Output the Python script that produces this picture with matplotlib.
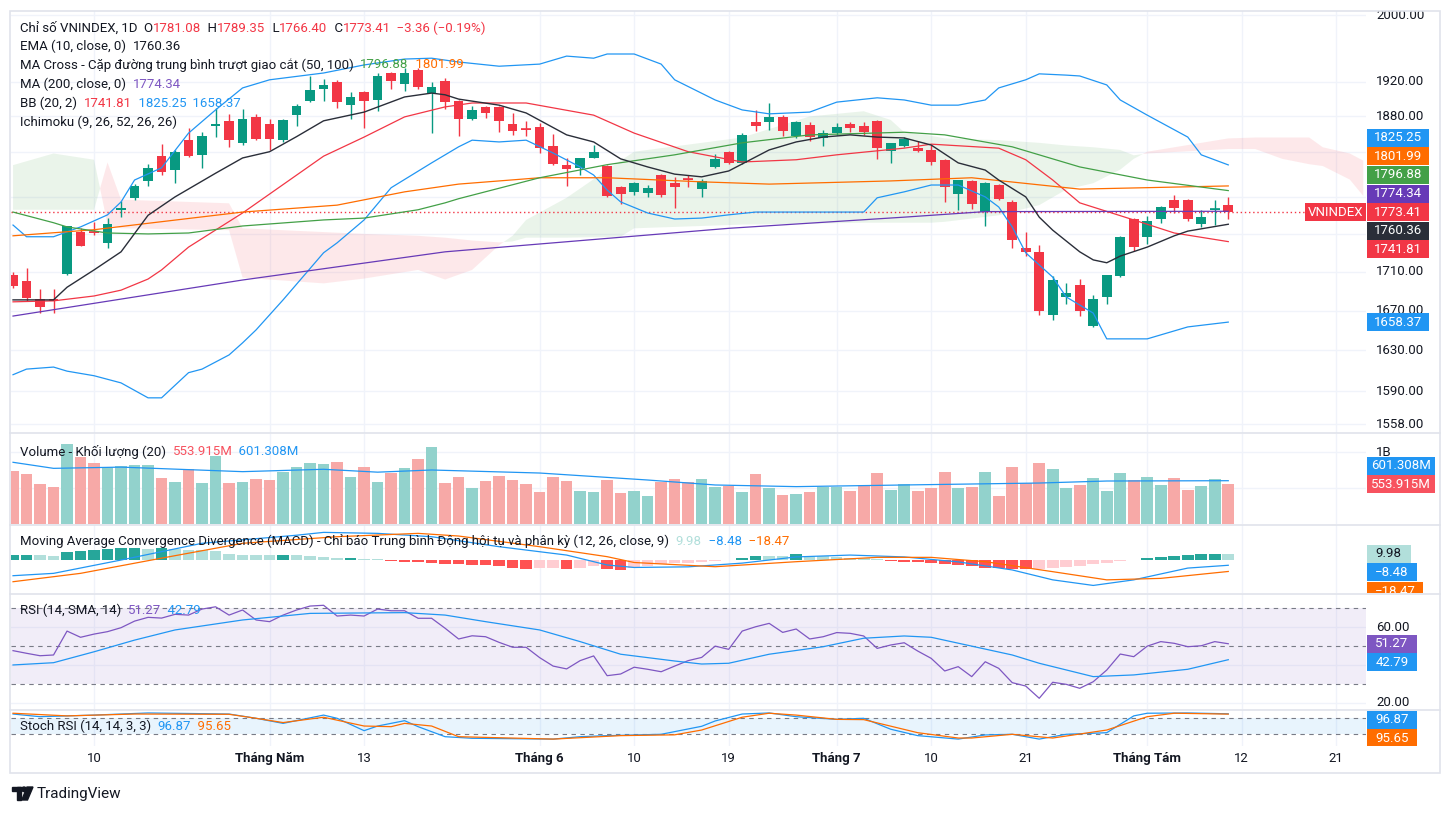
import numpy as np
import matplotlib.pyplot as plt
import matplotlib.transforms as mtransforms
from matplotlib.patches import Rectangle, Polygon, Ellipse
from matplotlib.lines import Line2D

plt.rcParams['font.family'] = ['Roboto', 'DejaVu Sans']

# ---------------- data ----------------
opens = [1707, 1700, 1682, 1681.5, 1708, 1752, 1752.5, 1740.5, 1776, 1788.5,
         1807.5, 1835, 1819.5, 1853, 1836.5, 1869, 1875, 1850, 1879.5, 1871.5,
         1853, 1882, 1898, 1912, 1920, 1893, 1908, 1899, 1930.5, 1917.5,
         1934, 1907, 1921, 1898, 1877, 1891, 1891, 1871.5, 1866, 1868,
         1846.5, 1825.5, 1822, 1833, 1824, 1801, 1795.5, 1794.5, 1814, 1805.5,
         1810, 1798.5, 1823, 1840, 1827.5, 1873.5, 1873.5, 1879.5, 1857.5, 1870,
         1855.5, 1861, 1871.5, 1869, 1875, 1841, 1846.5, 1844, 1842, 1831,
         1793, 1807.5, 1773.5, 1803, 1784.5, 1735, 1731, 1665.5, 1684, 1696.5,
         1654.5, 1684, 1706, 1766, 1747, 1766, 1786.5, 1786.5, 1760.5, 1776,
         1781.08]
highs = [1710, 1714, 1692, 1692, 1759, 1756, 1763, 1767, 1785.5, 1804,
         1826, 1849, 1842, 1867, 1862, 1890, 1883, 1888.5, 1883, 1877,
         1877.5, 1894.5, 1927, 1923.5, 1922.5, 1908, 1909, 1930.5, 1932, 1936.5,
         1936.5, 1920, 1924.5, 1899, 1892, 1892, 1892, 1884, 1875, 1872.5,
         1860, 1833, 1833.5, 1848, 1825, 1802, 1806, 1803, 1815, 1812,
         1814, 1810, 1837.5, 1841, 1861, 1887.5, 1895.5, 1882, 1875, 1874,
         1864.5, 1872.5, 1874, 1874, 1875.5, 1850, 1857, 1852, 1847.5, 1832,
         1809, 1808, 1806.5, 1804, 1786.5, 1752, 1738, 1705.5, 1698.5, 1702.5,
         1686, 1707, 1748, 1767, 1769.5, 1780, 1792, 1787.5, 1776, 1786.5,
         1789.35]
lows = [1693, 1680, 1668, 1668, 1707, 1737, 1749, 1735, 1768, 1787,
        1802, 1814, 1805, 1834, 1822, 1856.5, 1845, 1848, 1853, 1842,
        1851, 1869, 1897, 1898, 1889.5, 1877, 1867, 1886, 1912, 1909.5,
        1912, 1861, 1888.5, 1857.5, 1876, 1878, 1862, 1859, 1857.5, 1838.5,
        1825, 1802, 1814, 1832.5, 1790, 1782, 1792, 1790, 1790, 1778,
        1801, 1790, 1822, 1826, 1826, 1863.5, 1864.5, 1857.5, 1856, 1852,
        1846.5, 1859, 1862, 1859, 1832, 1827.5, 1845, 1839.5, 1825, 1784.5,
        1776, 1777, 1758.5, 1787, 1735, 1726.5, 1665.5, 1660.5, 1677, 1664.5,
        1653.5, 1677, 1704.5, 1732, 1739.5, 1762, 1772.5, 1764, 1757.5, 1759.5,
        1766.40]
closes = [1695, 1683, 1674, 1680.5, 1758.5, 1737.5, 1751.5, 1760.5, 1777.5, 1802,
          1822, 1817.5, 1840, 1835.5, 1857.5, 1871, 1853, 1877, 1854.5, 1854.5,
          1876, 1892, 1910.5, 1916.5, 1896.5, 1902.5, 1898, 1927, 1921, 1930.5,
          1914, 1914, 1896.5, 1877, 1887.5, 1884, 1875, 1863.5, 1865, 1844,
          1826.5, 1821, 1833, 1840, 1791, 1793, 1805.5, 1800, 1792, 1801,
          1809, 1807.5, 1832, 1827.5, 1859, 1869, 1879.5, 1863.5, 1873.5, 1856.5,
          1861, 1868, 1867, 1862, 1844, 1849.5, 1854.5, 1841, 1828.5, 1801,
          1808.5, 1782, 1805.5, 1788, 1743.5, 1731, 1669.5, 1701.5, 1688, 1669.5,
          1682, 1707, 1747, 1736, 1764, 1779, 1778, 1766, 1768.5, 1776.77,
          1773.41]
volumes = [0.740, 0.699, 0.556, 0.514, 1.111, 0.935, 0.847, 0.787, 0.806, 0.824,
           0.815, 0.643, 0.588, 0.759, 0.574, 0.949, 0.574, 0.583, 0.625, 0.611,
           0.722, 0.792, 0.847, 0.833, 0.861, 0.653, 0.792, 0.583, 0.713, 0.778,
           0.903, 1.069, 0.574, 0.653, 0.500, 0.597, 0.667, 0.611, 0.560, 0.444,
           0.653, 0.597, 0.458, 0.444, 0.616, 0.431, 0.458, 0.389, 0.588, 0.625,
           0.588, 0.625, 0.519, 0.532, 0.449, 0.694, 0.500, 0.403, 0.421, 0.449,
           0.509, 0.509, 0.458, 0.542, 0.713, 0.472, 0.556, 0.458, 0.505, 0.722,
           0.505, 0.509, 0.722, 0.389, 0.796, 0.574, 0.852, 0.764, 0.505, 0.542,
           0.639, 0.458, 0.713, 0.611, 0.657, 0.542, 0.639, 0.472, 0.528, 0.625,
           0.553915]

# indicator lines, sampled at bar indices
ema_x = [0, 3, 4, 6, 8, 10, 12, 15, 17, 19, 21, 23, 26, 29, 31, 32, 33, 36, 38, 41,
         43, 45, 47, 49, 51, 53, 56, 58, 60, 62, 64, 66, 68, 70, 72, 73, 75, 76, 77, 79,
         80, 81, 82, 84, 86, 87, 90]
ema_v = [1681, 1681, 1694, 1712, 1731, 1770, 1790, 1816, 1833, 1840, 1857, 1875, 1885, 1902.5,
         1907, 1905, 1900, 1893, 1884, 1859, 1851, 1832, 1823, 1815, 1812, 1818.5, 1842, 1851,
         1856.5, 1859, 1856.5, 1855.5, 1847.5, 1827.5, 1819.5, 1808.5, 1790, 1768, 1754, 1731,
         1722.5, 1719.5, 1726.5, 1736, 1748, 1753, 1760.36]
bb_mid_x = [0, 3, 6, 8, 10, 11, 13, 17, 23, 26, 29, 32, 34, 38, 43, 46, 50, 54, 58, 61,
            66, 68, 73, 75, 77, 79, 83, 86, 90]
bb_mid_v = [1679, 1680, 1685, 1691, 1702.5, 1712, 1736, 1772.5, 1835, 1856.5, 1879.5, 1891,
            1895.5, 1895.5, 1881.5, 1861, 1840, 1828.5, 1831, 1836.5, 1844, 1848.5, 1844, 1831,
            1808.5, 1783.5, 1765, 1751, 1741.81]
bb_up_x = [0, 1, 3, 5, 7, 8, 9, 11, 13, 15, 17, 19, 23, 26, 29, 31, 33, 36, 39, 41,
           43, 44, 46, 48, 49, 52, 54, 56, 59, 61, 64, 66, 68, 70, 72, 73, 75, 76, 78, 79,
           81, 82, 84, 87, 88, 90]
bb_up_v = [1759.5, 1747, 1747, 1757.5, 1770.5, 1784.5, 1808.5, 1822, 1861, 1887.5, 1913, 1922.5,
           1930.5, 1940, 1947, 1948, 1943.5, 1938.5, 1941, 1950.5, 1948, 1953, 1953, 1941, 1922.5,
           1899, 1887.5, 1883, 1885, 1896.5, 1901.5, 1899, 1893, 1893, 1899, 1913, 1922.5, 1929.5,
           1928, 1927, 1916.5, 1899, 1881.5, 1856.5, 1836.5, 1825.25]
bb_lo_x = [0, 1, 3, 4, 6, 8, 10, 11, 13, 14, 16, 17, 18, 20, 23, 24, 26, 28, 31, 33,
           34, 36, 38, 40, 42, 43, 44, 45, 47, 49, 51, 53, 55, 59, 63, 64, 66, 68, 70, 72,
           73, 74, 75, 77, 78, 80, 81, 84, 87, 90]
bb_lo_v = [1606, 1611.5, 1613.5, 1609.5, 1605, 1598, 1583.5, 1583.5, 1608, 1611.5, 1625.5, 1637.5,
           1650.5, 1681, 1730, 1740.5, 1765, 1800, 1827.5, 1845.5, 1853, 1851, 1853, 1838.5, 1823,
           1814, 1797.5, 1784.5, 1772.5, 1766, 1767, 1770.5, 1773.5, 1773.5, 1773.5, 1789, 1795.5,
           1803, 1803, 1790, 1779, 1757.5, 1730, 1704.5, 1684, 1667.5, 1641.5, 1641.5, 1653.5, 1658.37]
ma50_x = [0, 3, 4, 7, 10, 13, 17, 23, 26, 30, 32, 33, 39, 44, 49, 54, 59, 66, 69, 74, 79, 84, 90]
ma50_v = [1773.5, 1762, 1757.5, 1751, 1750, 1751, 1758.5, 1765, 1767, 1776, 1783.5, 1788, 1811,
          1825.5, 1836.5, 1850, 1859, 1862, 1859, 1845.5, 1823, 1808.5, 1796.88]
ma100_x = [0, 6, 17, 24, 29, 33, 39, 44, 51, 56, 65, 71, 79, 90]
ma100_v = [1748, 1754.5, 1773.5, 1781, 1795.5, 1804, 1811, 1811, 1806.5, 1804, 1807.5, 1811, 1798.5, 1801.99]
ma200_x = [0, 17, 32, 53, 66, 72, 90]
ma200_v = [1664.5, 1701.5, 1731, 1756, 1768, 1774, 1774.34]

# Ichimoku cloud (leading spans, drawn 26 bars ahead)
cloud_x = [0, 3, 6, 7, 8, 16, 17, 23, 26, 30, 32, 34, 36, 37, 38, 41, 45, 46, 54, 59,
           63, 65, 66, 68, 69, 73, 76, 78, 80, 82, 83, 84, 90, 92, 94, 96, 97, 99, 100]
span_a = [1825, 1838, 1831, 1760, 1756, 1754, 1704, 1698, 1703, 1712, 1702, 1712, 1738, 1748,
          1765, 1789, 1830, 1840, 1856, 1880, 1886, 1876, 1862, 1858, 1855, 1853, 1850, 1847,
          1845, 1842, 1836, 1838, 1843, 1843, 1832, 1826, 1824, 1809, 1791]
span_b = [1776, 1776, 1776, 1828, 1787, 1783, 1756, 1752, 1750, 1748, 1746, 1743, 1741, 1742,
          1746, 1746, 1747, 1756, 1760, 1761, 1762, 1762, 1762, 1762, 1763, 1770, 1781, 1798,
          1805, 1820, 1832, 1840, 1855, 1856, 1856, 1856, 1845, 1838, 1830]

vma_x = [0, 3, 8, 17, 23, 27, 31, 39, 47, 52, 58, 66, 76, 81, 90]
vma_v = [0.857, 0.773, 0.79, 0.727, 0.76, 0.72, 0.75, 0.708, 0.611, 0.542, 0.519, 0.542, 0.569, 0.597, 0.601308]

macd_hist = [8.0, 8.8, 7.5, 7.2, 12.4, 14.5, 16.7, 18.3, 19.4, 19.6,
             17.7, 19.4, 17.7, 16.7, 15.6, 14.0, 10.2, 8.2, 8.1, 8.0,
             8.3, 7.5, 5.9, 4.8, 3.2, 3.4, 1.6, 1.2, -1.6, -2.7,
             -3.8, -4.8, -5.9, -7.0, -8.0, -8.6, -10.2, -12.4, -14.5, -13.4,
             -12.4, -15.0, -12.4, -10.2, -15.0, -16.0, -13.0, -10.0, -7.0, -5.5,
             -4.0, -3.0, -1.5, -0.5, 3.2, 7.0, 6.8, 5.9, 9.1, 7.0,
             5.9, 4.8, 3.8, 2.7, 1.6, -1.6, -2.7, -3.8, -4.8, -5.9,
             -8.0, -10.2, -12.4, -13.0, -14.0, -15.0, -14.5, -13.0, -11.0, -9.0,
             -7.0, -4.5, -2.0, -0.5, 3.0, 5.0, 7.0, 8.5, 10.0, 10.5,
             9.98]
macd_x = [0, 3, 8, 14, 21, 23, 27, 31, 36, 41, 44, 46, 50, 54, 58, 62, 66, 70, 74, 77, 80, 83, 87, 90]
macd_v = [-25.3, -21.5, 0, 27, 40, 44.6, 43, 37.6, 21.5, 8, -8, -12, -11, -5, 5, 8, 5, -3, -16,
          -32, -41, -32, -13, -8.48]
sig_x = [0, 5, 11, 17, 24, 30, 33, 39, 44, 46, 52, 58, 64, 68, 72, 77, 81, 85, 90]
sig_v = [-35, -21.5, 3, 27, 37.6, 43, 38.7, 21.5, 5.4, -4, -10.8, -2.7, 4.3, 4.3, -2.7, -18.8,
         -32, -29.6, -18.47]

rsi = [47.6, 46.2, 44.9, 45.3, 58.0, 54.7, 56.4, 57.7, 59.8, 63.3,
       65.3, 64.9, 66.9, 66.5, 69.7, 70.9, 66.5, 69.2, 63.9, 63.0,
       66.5, 69.2, 71.3, 71.7, 66.0, 66.5, 66.0, 69.7, 68.8, 68.8,
       64.8, 64.8, 59.5, 53.8, 55.5, 55.0, 52.0, 49.4, 49.4, 43.9,
       39.4, 37.9, 42.3, 44.8, 34.3, 35.2, 38.8, 37.7, 36.4, 39.4,
       42.3, 44.0, 50.0, 48.3, 58.0, 60.3, 62.1, 57.3, 59.1, 53.8,
       55.0, 57.2, 56.8, 55.4, 48.8, 50.6, 51.8, 47.4, 43.5, 36.8,
       39.1, 33.8, 41.7, 38.2, 30.6, 28.8, 22.3, 30.8, 29.7, 27.6,
       31.1, 37.3, 45.8, 44.4, 50.0, 52.4, 51.5, 49.7, 50.2, 52.4,
       51.27]
rma_x = [0, 3, 6, 9, 12, 17, 22, 29, 32, 35, 39, 42, 45, 49, 51, 53, 56, 60, 63, 66,
         68, 71, 74, 76, 80, 83, 87, 90]
rma_v = [40, 41.2, 47, 53.2, 58.6, 63.9, 67.4, 67.8, 66.5, 63, 58.6, 52.4, 45.7, 42.1, 40.5,
         40.9, 45.7, 49.7, 54.2, 55.4, 54.7, 50, 45.3, 40.9, 33.8, 34.7, 37.7, 42.79]

k_x = [0, 2, 6, 10, 16, 18, 20, 23, 24, 26, 27, 29, 30, 32, 34, 40, 42, 44, 48, 51,
       52, 54, 56, 58, 61, 63, 65, 67, 70, 72, 74, 76, 78, 81, 83, 84, 87, 90]
k_v = [96, 86, 92, 100, 96, 80, 61, 92, 80, 33.6, 51, 71, 48.6, 11, 5, 2, 11, 15, 20, 50,
       70, 96, 100, 86, 76, 80, 39, 15, 2, 17.5, 20, 2, 20, 26, 89, 99, 100, 96.87]
d_x = [0, 4, 9, 16, 18, 20, 23, 26, 28, 29, 31, 33, 40, 45, 49, 51, 54, 56, 58, 61,
       63, 67, 70, 71, 74, 77, 81, 84, 86, 90]
d_v = [99, 89, 96, 95, 80, 64, 84, 51, 48.6, 61, 51, 11, 2, 15, 18, 36, 84, 99, 92, 76,
       75, 26, 6, 6, 20, 6, 36, 86, 99, 95.65]

tick_idx = [6, 19, 26, 39, 46, 53, 61, 68, 75, 84, 91, 98]
tick_lbl = ['10', 'Tháng Năm', '13', 'Tháng 6', '10', '19', 'Tháng 7', '10', '21',
            'Tháng Tám', '12', '21']
price_grid = [1558, 1590, 1630, 1670, 1710, 1750, 1790, 1840, 1880, 1920, 2000]
price_labels = [1558, 1590, 1630, 1670, 1710, 1880, 1920, 2000]

# ---------------- style ----------------
UP, DN = '#089981', '#F23645'
BLUE, ORANGE, GREEN, PURPLE, RSI_C = '#2196F3', '#FF6D00', '#43A047', '#673AB7', '#7E57C2'
TXT, GRID, BORDER = '#131722', '#F0F3FA', '#E0E3EB'
FS = 9.5

W, H = 1452, 813
fig = plt.figure(figsize=(W / 100, H / 100), dpi=100)
XL, XR = -0.15, 100.2


def box(top, bot, x0=11, x1=1366):
    return [x0 / W, 1 - bot / H, (x1 - x0) / W, (bot - top) / H]


def pane(top, bot, ylim, log=False):
    ax = fig.add_axes(box(top, bot))
    sc = fig.add_axes(box(top, bot, 1366, 1440))
    for a in (ax, sc):
        if log:
            a.set_yscale('log')
        a.set_ylim(*ylim)
        a.axis('off')
    ax.set_xlim(XL, XR)
    sc.set_xlim(0, 1)
    for i in tick_idx:
        ax.axvline(i, color=GRID, lw=1, zorder=0)
    return ax, sc


def scale_labels(sc, vals, fmt):
    tr = mtransforms.blended_transform_factory(sc.transAxes, sc.transData)
    for v in vals:
        sc.text(0.135, v, fmt(v), transform=tr, ha='left', va='center', fontsize=FS,
                color=TXT, zorder=2, clip_on=True)


def legend(ax, ypx, parts):
    t = ax.text(20 / W, 1 - ypx / H, parts[0][0], color=parts[0][1], fontsize=FS,
                transform=fig.transFigure, ha='left', va='center', zorder=10)
    for s, c in parts[1:]:
        t = ax.annotate(s, xy=(1, 0.5), xycoords=t, ha='left', va='center', color=c,
                        fontsize=FS, annotation_clip=False, zorder=10)


def right_tags(ax, sc, items, anchor, top_px):
    disp = [ax.transData.transform((0, it[0]))[1] for it in items]
    pos = list(disp)
    gap = 18.6
    prev = disp[anchor]
    for k in sorted([k for k in range(len(items)) if k != anchor and disp[k] >= disp[anchor]],
                    key=lambda k: disp[k]):
        pos[k] = max(disp[k], prev + gap)
        prev = pos[k]
    prev = disp[anchor]
    for k in sorted([k for k in range(len(items)) if k != anchor and disp[k] < disp[anchor]],
                    key=lambda k: -disp[k]):
        pos[k] = min(disp[k], prev - gap)
        prev = pos[k]
    over = max(pos) + 9.5 - (H - top_px)
    if over > 0:
        pos = [p - over for p in pos]
    inv = sc.transAxes.inverted()
    hh = 18 / sc.bbox.height
    for (v, s, bg, fg), p in zip(items, pos):
        fy = inv.transform((0, p))[1]
        wpx = len(s) * 6.2 + 19
        sc.add_patch(Rectangle((0.012, fy - hh / 2), wpx / 74, hh, transform=sc.transAxes,
                               facecolor=bg, edgecolor='none', zorder=5))
        sc.text(0.012 + wpx / 148, fy, s, transform=sc.transAxes, ha='center', va='center',
                color=fg, fontsize=FS, zorder=6, clip_on=True)
    return pos


x = np.arange(len(closes))
o, h, l, c = (np.array(a, dtype=float) for a in (opens, highs, lows, closes))
up = c >= o

# ---------------- main pane ----------------
ax, sc = pane(11, 433, (1549.9, 2004.9), log=True)
for v in price_grid:
    ax.axhline(v, color=GRID, lw=1, zorder=0)
scale_labels(sc, price_labels, lambda v: f'{v:.2f}')

ca, cb = np.array(span_a, float), np.array(span_b, float)
ax.fill_between(cloud_x, ca, cb, where=ca >= cb, interpolate=True, color=GREEN, alpha=0.11,
                lw=0, zorder=1)
ax.fill_between(cloud_x, ca, cb, where=ca < cb, interpolate=True, color=DN, alpha=0.11,
                lw=0, zorder=1)

col = np.where(up, UP, DN)
ax.vlines(x, l, h, colors=col, lw=1, zorder=3)
ax.bar(x, np.maximum(np.abs(c - o), 0.01), bottom=np.minimum(o, c), width=0.72, color=col,
       lw=0, zorder=3)
doji = np.abs(c - o) < 2
ax.hlines((o[doji] + c[doji]) / 2, x[doji] - 0.36, x[doji] + 0.36, colors=col[doji], lw=1.2,
          zorder=3)

ax.axhline(c[-1], color=DN, lw=1, ls=(0, (1, 2)), zorder=2)
ax.plot(bb_up_x, bb_up_v, color=BLUE, lw=0.9, zorder=4)
ax.plot(bb_lo_x, bb_lo_v, color=BLUE, lw=0.9, zorder=4)
ax.plot(bb_mid_x, bb_mid_v, color=DN, lw=0.9, zorder=4)
ax.plot(ma100_x, ma100_v, color=ORANGE, lw=0.9, zorder=4)
ax.plot(ma50_x, ma50_v, color=GREEN, lw=0.9, zorder=4)
ax.plot(ma200_x, ma200_v, color=PURPLE, lw=0.9, zorder=4)
ax.plot(ema_x, ema_v, color='#2A2E39', lw=1.0, zorder=4)

chg = c[-1] - c[-2]
legend(ax, 28, [('Chỉ số VNINDEX, 1D  O', TXT), (f'{o[-1]:.2f}', DN), ('  H', TXT),
                (f'{h[-1]:.2f}', DN), ('  L', TXT), (f'{l[-1]:.2f}', DN), ('  C', TXT),
                (f'{c[-1]:.2f}', DN),
                (f'  −{abs(chg):.2f} (−{abs(chg / c[-2]) * 100:.2f}%)', DN)])
legend(ax, 46.5, [('EMA (10, close, 0)  ', TXT), (f'{ema_v[-1]:.2f}', TXT)])
legend(ax, 65, [('MA Cross - Cặp đường trung bình trượt giao cắt (50, 100)  ', TXT),
                (f'{ma50_v[-1]:.2f}', GREEN), (f'  {ma100_v[-1]:.2f}', ORANGE)])
legend(ax, 84, [('MA (200, close, 0)  ', TXT), (f'{ma200_v[-1]:.2f}', RSI_C)])
legend(ax, 103, [('BB (20, 2)  ', TXT), (f'{bb_mid_v[-1]:.2f}', DN),
                 (f'  {bb_up_v[-1]:.2f}', BLUE), (f'  {bb_lo_v[-1]:.2f}', BLUE)])
legend(ax, 122, [('Ichimoku (9, 26, 52, 26, 26)', TXT)])

items = [(bb_up_v[-1], f'{bb_up_v[-1]:.2f}', BLUE, 'white'),
         (ma100_v[-1], f'{ma100_v[-1]:.2f}', ORANGE, 'white'),
         (ma50_v[-1], f'{ma50_v[-1]:.2f}', GREEN, 'white'),
         (ma200_v[-1], f'{ma200_v[-1]:.2f}', PURPLE, 'white'),
         (c[-1], f'{c[-1]:.2f}', DN, 'white'),
         (ema_v[-1], f'{ema_v[-1]:.2f}', '#2A2E39', 'white'),
         (bb_mid_v[-1], f'{bb_mid_v[-1]:.2f}', DN, 'white'),
         (bb_lo_v[-1], f'{bb_lo_v[-1]:.2f}', BLUE, 'white')]
pos = right_tags(ax, sc, items, 4, 11)
trm = mtransforms.blended_transform_factory(ax.transAxes, fig.transFigure)
ax.add_patch(Rectangle(((1305 - 11) / 1355, (pos[4] - 9) / H), 1 - (1305 - 11) / 1355, 18 / H,
                       transform=trm, facecolor=DN, edgecolor='none', zorder=6))
ax.text((1336 - 11) / 1355, pos[4] / H, 'VNINDEX', transform=trm, ha='center', va='center',
        color='white', fontsize=FS, zorder=7)

# ---------------- volume pane ----------------
av, sv = pane(434, 524, (0, 1.25))
for v in (0.5, 1.0):
    av.axhline(v, color=GRID, lw=1, zorder=0)
scale_labels(sv, [1.0], lambda v: '1B')
av.bar(x, volumes, width=0.86, color=np.where(up, '#92D2CC', '#F7A9A7'), lw=0, zorder=2)
av.plot(vma_x, vma_v, color=BLUE, lw=0.9, zorder=3)
legend(av, 451.5, [('Volume - Khối lượng (20)  ', TXT), (f'{volumes[-1] * 1000:.3f}M', '#F7525F'),
                   (f'  {vma_v[-1] * 1000:.3f}M', BLUE)])
right_tags(av, sv, [(vma_v[-1], f'{vma_v[-1] * 1000:.3f}M', BLUE, 'white'),
                    (volumes[-1], f'{volumes[-1] * 1000:.3f}M', '#F7525F', 'white')], 1, 434)

# ---------------- MACD pane ----------------
am, sm = pane(525, 593, (-53.2, 56.5))
hcol = []
for i, hv in enumerate(macd_hist):
    pv = macd_hist[i - 1] if i else hv - 1
    if hv >= 0:
        hcol.append('#26A69A' if hv > pv else '#B2DFDB')
    else:
        hcol.append('#FF5252' if hv < pv else '#FFCDD2')
am.bar(x, macd_hist, width=0.86, color=hcol, lw=0, zorder=2)
am.plot(macd_x, macd_v, color=BLUE, lw=0.9, zorder=3)
am.plot(sig_x, sig_v, color=ORANGE, lw=0.9, zorder=3)
legend(am, 541.5, [('Moving Average Convergence Divergence (MACD) - Chỉ báo Trung bình Động hội tụ '
                    'và phân kỳ (12, 26, close, 9)  ', TXT),
                   (f'{macd_hist[-1]:.2f}', '#B2DFDB'), (f'  {macd_v[-1]:.2f}'.replace('-', '−'), BLUE),
                   (f'  {sig_v[-1]:.2f}'.replace('-', '−'), ORANGE)])
right_tags(am, sm, [(macd_hist[-1], f'{macd_hist[-1]:.2f}', '#B2DFDB', TXT),
                    (macd_v[-1], f'{macd_v[-1]:.2f}'.replace('-', '−'), BLUE, 'white'),
                    (sig_v[-1], f'{sig_v[-1]:.2f}'.replace('-', '−'), ORANGE, 'white')], 0, 525)

# ---------------- RSI pane ----------------
ar, sr = pane(594, 709, (16.6, 77.7))
for v in (20, 40, 60):
    ar.axhline(v, color=GRID, lw=1, zorder=0)
ar.axhspan(30, 70, color=RSI_C, alpha=0.1, lw=0, zorder=1)
for v in (70, 50, 30):
    ar.axhline(v, color='#787B86', lw=0.8, ls=(0, (4, 4)), zorder=2)
scale_labels(sr, [60, 20], lambda v: f'{v:.2f}')
ar.plot(x, rsi, color=RSI_C, lw=0.9, zorder=3)
ar.plot(rma_x, rma_v, color=BLUE, lw=0.9, zorder=3)
legend(ar, 610.5, [('RSI (14, SMA, 14)  ', TXT), (f'{rsi[-1]:.2f}', RSI_C),
                   (f'  {rma_v[-1]:.2f}', BLUE)])
right_tags(ar, sr, [(rsi[-1], f'{rsi[-1]:.2f}', RSI_C, 'white'),
                    (rma_v[-1], f'{rma_v[-1]:.2f}', BLUE, 'white')], 0, 594)

# ---------------- Stoch RSI pane ----------------
ast, sst = pane(710, 746, (-23.9, 111.1))
ast.axhspan(20, 80, color=BLUE, alpha=0.1, lw=0, zorder=1)
for v in (80, 20):
    ast.axhline(v, color='#787B86', lw=0.8, ls=(0, (4, 4)), zorder=2)
ast.plot(k_x, k_v, color=BLUE, lw=0.9, zorder=3)
ast.plot(d_x, d_v, color=ORANGE, lw=0.9, zorder=3)
legend(ast, 726.5, [('Stoch RSI (14, 14, 3, 3)  ', TXT), (f'{k_v[-1]:.2f}', BLUE),
                    (f'  {d_v[-1]:.2f}', ORANGE)])
right_tags(ast, sst, [(k_v[-1], f'{k_v[-1]:.2f}', BLUE, 'white'),
                      (d_v[-1], f'{d_v[-1]:.2f}', ORANGE, 'white')], 0, 710)

# time axis
trt = mtransforms.blended_transform_factory(ast.transData, fig.transFigure)
for i, s in zip(tick_idx, tick_lbl):
    ast.text(i, 1 - 758 / H, s, transform=trt, ha='center', va='center', fontsize=FS, color=TXT,
             fontweight='bold' if s.startswith('Tháng') else 'normal', clip_on=False)

# frame and pane separators
fig.add_artist(Rectangle((10 / W, 1 - 773 / H), 1430 / W, 762 / H, transform=fig.transFigure,
                         fill=False, edgecolor=BORDER, lw=1.2))
for yy in (433.5, 524.5, 593.5, 709.5):
    fig.add_artist(Line2D([10 / W, 1440 / W], [1 - yy / H] * 2, color=BORDER, lw=1.2))

# TradingView logo
def fp(px, py):
    return (px / W, 1 - py / H)

fig.add_artist(Rectangle(fp(12, 791), 9 / W, 4 / H, transform=fig.transFigure, color=TXT))
fig.add_artist(Rectangle(fp(16.5, 800), 4.5 / W, 13 / H, transform=fig.transFigure, color=TXT))
fig.add_artist(Ellipse(fp(24, 789.3), 4.6 / W, 4.6 / H, transform=fig.transFigure, color=TXT))
fig.add_artist(Polygon([fp(27, 787), fp(33, 787), fp(27.5, 800), fp(21.8, 800)],
                       transform=fig.transFigure, color=TXT))
fig.text(37 / W, 1 - 794 / H, 'TradingView', fontsize=11, color=TXT, ha='left', va='center')

fig.savefig('out.png', dpi=100, facecolor='white')
